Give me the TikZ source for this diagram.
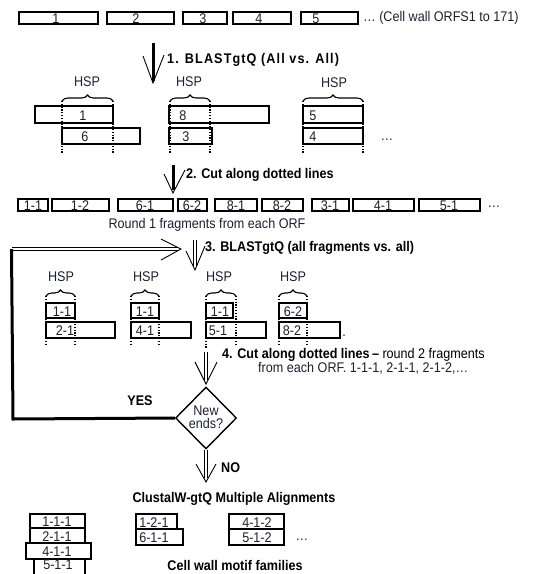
\documentclass[tikz,border=0pt]{standalone}
\usepackage{fontspec}
\setmainfont{Liberation Sans}[FakeStretch=0.9]
\usetikzlibrary{shapes.geometric,decorations.pathreplacing}
\definecolor{txtc}{RGB}{30,30,50}
\tikzset{
  boxst/.style={draw, line width=1.4pt, inner sep=0pt},
  txt/.style={inner sep=0pt, text=txtc, font=\fontsize{14}{16}\selectfont},
  lbl/.style={inner sep=0pt, anchor=west, font=\fontsize{14}{16}\selectfont\bfseries},
  dotln/.style={line width=1.3pt, dash pattern=on 1.2pt off 1.6pt},
  brc/.style={decorate, decoration={brace, amplitude=6pt}, line width=1.1pt},
  shaft/.style={line width=3pt},
  dshaft/.style={double, double distance=2pt, line width=0.9pt},
  chev/.style={line width=0.9pt},
}
\newcommand{\bx}[7]{%
  \node[boxst, minimum width={#4-#2}, minimum height={#5-#3}] (#1) at ({(#2+#4)/2},{-(#3+#5)/2}) {};
  \node[txt] (#1t) at (#6,{-(#3+#5)/2-1}) {#7};}
\begin{document}
\begin{tikzpicture}[x=1pt,y=1pt]
\path[use as bounding box] (0,0) rectangle (538,-574);
% top row
\bx{t1}{19}{12}{98}{24}{56}{1}
\bx{t2}{107}{12}{174}{24}{136}{2}
\bx{t3}{183}{12}{227}{24}{203}{3}
\bx{t4}{233}{12}{291}{24}{259}{4}
\bx{t5}{301}{12}{358}{24}{316}{5}
\node[txt, anchor=west] (ttl) at (363,-18) {\dots\ (Cell wall ORFS1 to 171)};
% arrow 1
\coordinate (a1s) at (153,-43);
\coordinate (a1e) at (153,-81);
\draw[shaft] (a1s) -- (a1e);
\draw[chev] (143,-56) -- (153,-83) -- (164,-55);
\node[lbl] (l1) at (167,-60) {\addfontfeature{LetterSpace=8}1. BLASTgtQ (All vs. All)};
% HSP row 1
\node[txt] (h1) at (87,-82) {HSP};
\node[txt] (h2) at (189,-82) {HSP};
\node[txt] (h3) at (334,-83) {HSP};
\draw[brc] (62,-101) -- (113,-101);
\draw[brc] (170,-101) -- (210,-101);
\draw[brc] (303,-101) -- (363,-101);
\bx{r1a}{35}{106}{113}{123}{83}{1}
\bx{r1b}{62}{128}{140}{144}{85}{6}
\bx{r2a}{169}{106}{269}{123}{183}{8}
\bx{r2b}{169}{128}{212}{144}{186}{3}
\bx{r3a}{303}{106}{363}{123}{313}{5}
\bx{r3b}{303}{128}{363}{144}{313}{4}
\foreach \xx in {62,113,170,210,303,363} \draw[dotln] (\xx,-101) -- (\xx,-153);
\node[txt] (dd1) at (387,-140) {\dots};
% arrow 2
\draw[shaft] (173,-165) -- (173,-190);
\draw[chev] (164,-174) -- (173,-193) -- (185,-170);
\node[lbl] (l2) at (186,-175) {2. Cut along dotted lines};
% fragments row
\bx{f1}{18}{199}{48}{211}{33}{1-1}
\bx{f2}{52}{199}{109}{211}{80}{1-2}
\bx{f3}{118}{199}{173}{211}{145}{6-1}
\bx{f4}{178}{199}{207}{211}{192}{6-2}
\bx{f5}{215}{199}{257}{211}{236}{8-1}
\bx{f6}{262}{199}{303}{211}{282}{8-2}
\bx{f7}{312}{199}{349}{211}{330}{3-1}
\bx{f8}{353}{199}{414}{211}{383}{4-1}
\bx{f9}{419}{199}{480}{211}{449}{5-1}
\node[txt] (dd2) at (494,-207) {\dots};
\node[txt] (rnd) at (207,-225) {Round 1 fragments from each ORF};
% loop back
\coordinate (lpa) at (12,-249);
\coordinate (lpb) at (178,-249);
\coordinate (lpc) at (13,-419);
\draw[dshaft] (lpa) -- (lpb);
\draw[chev] (161,-239) -- (181,-249) -- (161,-260);
% arrow 3
\draw[dshaft] (195,-240) -- (195,-266);
\draw[chev] (186,-251) -- (195,-270) -- (205,-246);
\node[lbl] (l3) at (205,-248) {3. BLASTgtQ (all fragments vs. all)};
% HSP row 2
\node[txt] (g1) at (61,-277) {HSP};
\node[txt] (g2) at (146,-277) {HSP};
\node[txt] (g3) at (219,-277) {HSP};
\node[txt] (g4) at (293,-277) {HSP};
\draw[brc] (46,-296) -- (75,-296);
\draw[brc] (131,-296) -- (159,-296);
\draw[brc] (206,-296) -- (236,-296);
\draw[brc] (279,-296) -- (307,-296);
\bx{sa1}{46}{303}{75}{318}{62}{1-1}
\bx{sa2}{46}{322}{115}{338}{65}{2-1}
\bx{sb1}{131}{303}{159}{318}{145}{1-1}
\bx{sb2}{131}{322}{191}{338}{145}{4-1}
\bx{sc1}{206}{303}{233}{318}{220}{1-1}
\bx{sc2}{206}{322}{266}{338}{218}{5-1}
\bx{sd1}{279}{303}{307}{318}{293}{6-2}
\bx{sd2}{279}{322}{340}{338}{292}{8-2}
\foreach \xx in {46,75,131,159,236,279,307} \draw[dotln] (\xx,-296) -- (\xx,-345);
\draw[dotln] (206,-296) -- (206,-348);
\node[txt] (dd3) at (344,-336) {.};
% arrow 4
\draw[dshaft] (206,-352) -- (206,-380);
\draw[chev] (195,-362) -- (206,-384) -- (217,-362);
\node[lbl] (l4) at (222,-355) {4. Cut along dotted lines\,\textendash\ \mdseries round 2 fragments};
\node[txt, anchor=west] (l4b) at (258,-368) {from each ORF. 1-1-1, 2-1-1, 2-1-2,\dots};
% decision
\node[diamond, draw, line width=1.4pt, minimum width=61pt, minimum height=62pt, inner sep=0pt] (dec) at (206,-418) {};
\node[txt, align=center, font=\fontsize{14}{13}\selectfont] (dect) at (206,-417) {New\\ends?};
\draw[shaft] (dec.west) -- (lpc) -- ([xshift=-0.5pt]lpa);
\node[lbl, anchor=center] (yes) at (140,-401) {YES};
% NO arrow
\draw[dshaft] (dec.south) -- (206,-478);
\draw[chev] (196,-464) -- (206,-482) -- (216,-464);
\node[lbl] (no) at (221,-468) {NO};
\node[lbl, anchor=center] (clw) at (234,-499) {ClustalW-gtQ Multiple Alignments};
% bottom stacks
\bx{b1}{30}{514}{85}{528}{57}{1-1-1}
\bx{b2}{30}{528}{85}{543}{57}{2-1-1}
\bx{b3}{26}{543}{91}{559}{57}{4-1-1}
\node[boxst, minimum width=51pt, minimum height=17pt] (b4) at (59.5,-567.5) {};
\node[txt] (b4t) at (58,-565) {5-1-1};
\bx{c1}{136}{514}{177}{529}{154}{1-2-1}
\bx{c2}{136}{529}{183}{545}{154}{6-1-1}
\bx{e1}{229}{514}{284}{529}{257}{4-1-2}
\bx{e2}{229}{529}{284}{545}{257}{5-1-2}
\node[txt] (dd4) at (302,-540) {\dots};
\node[lbl, anchor=center] (cwm) at (235,-565) {Cell wall motif families};
\end{tikzpicture}
\end{document}
